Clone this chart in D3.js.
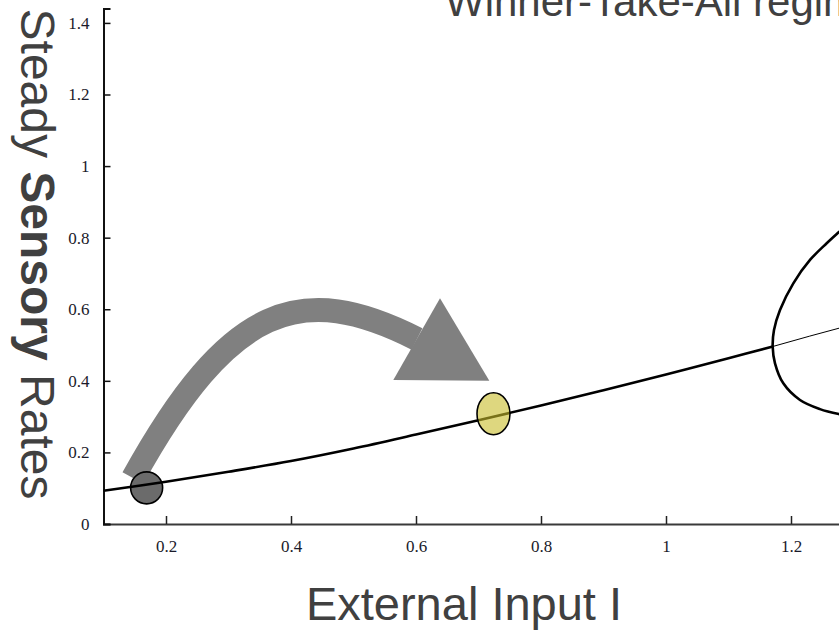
<!DOCTYPE html>
<html>
<head>
<meta charset="utf-8">
<script src="https://cdn.jsdelivr.net/npm/d3@7"></script>
<style>
  body { margin: 0; background: #fff; }
  svg { display: block; }
</style>
</head>
<body>
<svg id="chart" width="839" height="630"></svg>
<script>
// Axis ticks
const xTicks = [0.2, 0.4, 0.6, 0.8, 1, 1.2];
const yTicks = [0, 0.2, 0.4, 0.6, 0.8, 1, 1.2, 1.4];

// Stable low-activity branch (input I, steady rate r)
const stableI = [0.10, 0.20, 0.30, 0.40, 0.50, 0.60, 0.70, 0.80, 0.90, 1.00, 1.10, 1.171];
const stableR = [0.093, 0.118, 0.146, 0.176, 0.211, 0.250, 0.290, 0.331, 0.374, 0.418, 0.463, 0.496];

// Unstable continuation past the bifurcation
const unstableI = [1.171, 1.23, 1.30];
const unstableR = [0.496, 0.525, 0.558];

// Winner-take-all branches: upper (winner) and lower (loser)
const upperI = [1.1707, 1.1728, 1.1824, 1.2037, 1.2304, 1.2571, 1.2768, 1.30];
const upperR = [0.4954, 0.542, 0.598, 0.6725, 0.7377, 0.7843, 0.8159, 0.852];
const lowerI = [1.1707, 1.1744, 1.1877, 1.2144, 1.2464, 1.2768, 1.30];
const lowerR = [0.4954, 0.449, 0.393, 0.3465, 0.321, 0.307, 0.300];

// Marked operating points: before and after the input change
const startPoint = { I: 0.169, r: 0.101 };
const endPoint = { I: 0.724, r: 0.308 };

// Transition arrow: cubic shaft (start, two controls, end) and head, in data units
const arrowI = [0.1472, 0.3021, 0.4165, 0.6016];
const arrowR = [0.1285, 0.6175, 0.6804, 0.5169];
const headI = [0.6384, 0.5637, 0.7173];
const headR = [0.6306, 0.4023, 0.4004];

const svg = d3.select("#chart");

const x = d3.scaleLinear().domain([0.1, 1.3]).range([103.5, 853.5]);
const y = d3.scaleLinear().domain([0, 1.44]).range([524, 8.6]);

const zip = (a, b) => a.map((v, i) => [v, b[i]]);
const line = d3.line().x(d => x(d[0])).y(d => y(d[1]));
const smooth = d3.line().x(d => x(d[0])).y(d => y(d[1])).curve(d3.curveCatmullRom.alpha(0.5));

// Title (runs off the top edge)
svg.append("text")
  .attr("x", 445).attr("y", 16)
  .attr("font-family", "'Liberation Sans', Arial, sans-serif")
  .attr("font-size", 42)
  .attr("fill", "#404040")
  .text("Winner-Take-All regime");

// Axes
const tickFont = "'Liberation Serif', 'Times New Roman', serif";
const gx = svg.append("g").attr("transform", `translate(0,${y(0)})`)
  .call(d3.axisBottom(x).tickValues(xTicks).tickSize(-8).tickPadding(16)
    .tickFormat(d3.format("~g")));
gx.select(".domain").attr("stroke", "#3a3a3a").attr("stroke-width", 2);
gx.selectAll(".tick line").attr("stroke", "#222").attr("stroke-width", 1.5);
gx.selectAll(".tick text")
  .attr("font-family", tickFont).attr("font-size", 17).attr("fill", "#1a1a2a");

const gy = svg.append("g").attr("transform", `translate(${x(0.1)},0)`)
  .call(d3.axisLeft(y).tickValues(yTicks).tickSize(-7).tickPadding(14)
    .tickFormat(d3.format("~g")));
gy.select(".domain").attr("stroke", "#111").attr("stroke-width", 2);
gy.selectAll(".tick line").attr("stroke", "#111").attr("stroke-width", 1.5);
gy.selectAll(".tick text")
  .attr("font-family", tickFont).attr("font-size", 17).attr("fill", "#1a1a2a");

// Transition arrow
const shaft = d3.path();
shaft.moveTo(x(arrowI[0]), y(arrowR[0]));
shaft.bezierCurveTo(x(arrowI[1]), y(arrowR[1]), x(arrowI[2]), y(arrowR[2]), x(arrowI[3]), y(arrowR[3]));
svg.append("path")
  .attr("d", shaft.toString())
  .attr("fill", "none")
  .attr("stroke", "#808080")
  .attr("stroke-width", 24)
  .attr("stroke-linecap", "butt");
svg.append("path")
  .attr("d", line(zip(headI, headR)) + "Z")
  .attr("fill", "#808080");

// Starting point marker
svg.append("circle")
  .attr("cx", x(startPoint.I)).attr("cy", y(startPoint.r))
  .attr("r", 16)
  .attr("fill", "#6b6b6b")
  .attr("stroke", "#000").attr("stroke-width", 1.6);

// Bifurcation diagram
svg.append("path")
  .attr("d", smooth(zip(stableI, stableR)))
  .attr("fill", "none").attr("stroke", "#000").attr("stroke-width", 2.6);
svg.append("path")
  .attr("d", line(zip(unstableI, unstableR)))
  .attr("fill", "none").attr("stroke", "#000").attr("stroke-width", 1);
const wta = zip(upperI, upperR).reverse().concat(zip(lowerI, lowerR).slice(1));
svg.append("path")
  .attr("d", smooth(wta))
  .attr("fill", "none").attr("stroke", "#000").attr("stroke-width", 2.6);

// End point marker (translucent, the branch shows through)
svg.append("ellipse")
  .attr("cx", x(endPoint.I)).attr("cy", y(endPoint.r))
  .attr("rx", 16.5).attr("ry", 21)
  .attr("fill", "#c8bd2a").attr("fill-opacity", 0.6)
  .attr("stroke", "#000").attr("stroke-width", 1.6);

// Axis titles
svg.append("text")
  .attr("x", 464).attr("y", 620)
  .attr("text-anchor", "middle")
  .attr("font-family", "'Liberation Sans', Arial, sans-serif")
  .attr("font-size", 47)
  .attr("fill", "#404040")
  .text("External Input I");

const yl = svg.append("text")
  .attr("transform", "translate(21,254) rotate(90)")
  .attr("text-anchor", "middle")
  .attr("font-family", "'Liberation Sans', Arial, sans-serif")
  .attr("font-size", 48)
  .attr("fill", "#404040");
yl.append("tspan").text("Steady ");
yl.append("tspan").attr("font-weight", "bold").text("Sensory");
yl.append("tspan").text(" Rates");
</script>
</body>
</html>
